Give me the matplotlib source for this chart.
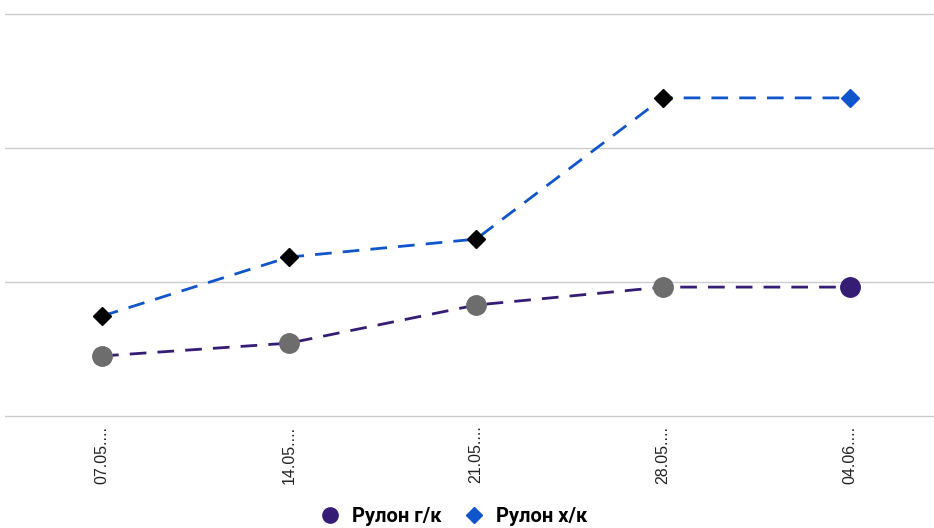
import numpy as np
import matplotlib.pyplot as plt
from matplotlib.lines import Line2D

dates = ['07.05....', '14.05....', '21.05....', '28.05....', '04.06....']
hot_rolled = [62240, 62720, 64140, 64810, 64810]   # Рулон г/к
cold_rolled = [63730, 65930, 66600, 71870, 71870]  # Рулон х/к

purple = '#351c75'
blue = '#1155cc'

fig = plt.figure(figsize=(9.34, 5.28), dpi=100)
ax = fig.add_axes([5/934, 1 - 420/528, 929/934, 410/528])

x = np.arange(len(dates))
ax.plot(x, hot_rolled, color=purple, lw=2, dashes=(6, 4), zorder=2)
ax.plot(x, cold_rolled, color=blue, lw=2, dashes=(6, 4), zorder=2)

# all but last point with highlighted markers
ax.plot(x[:-1], hot_rolled[:-1], 'o', ms=14, color='#6d6d6d', ls='none', zorder=3)
ax.plot(x[-1:], hot_rolled[-1:], 'o', ms=14, color=purple, ls='none', zorder=3)
ax.plot(x[:-1], cold_rolled[:-1], 'D', ms=9.5, color='black', ls='none', zorder=3)
ax.plot(x[-1:], cold_rolled[-1:], 'D', ms=9.5, color=blue, ls='none', zorder=3)

ax.set_xlim(-0.519, 4.449)
ax.set_ylim(59851, 75149)
ax.set_yticks([60000, 65000, 70000, 75000])
ax.set_yticklabels([])
ax.tick_params(axis='y', length=0)
ax.grid(axis='y', color='#cccccc', lw=1)
ax.set_axisbelow(True)
for s in ax.spines.values():
    s.set_visible(False)

ax.set_xticks(x)
ax.set_xticklabels(dates, rotation=90, fontsize=11.5, color='#222222', va='top',
                   family='Liberation Sans')
ax.tick_params(axis='x', length=0, pad=4)

handles = [Line2D([], [], marker='o', ls='none', color=purple, ms=11),
           Line2D([], [], marker='D', ls='none', color=blue, ms=8)]
fig.legend(handles, ['Рулон г/к', 'Рулон х/к'], loc='center', bbox_to_anchor=(0.48, 0.022),
           ncol=2, frameon=False, handletextpad=0.1, columnspacing=0.6,
           prop={'family': 'Roboto', 'weight': 'bold', 'size': 14.5})

fig.savefig('out.png', dpi=100)
